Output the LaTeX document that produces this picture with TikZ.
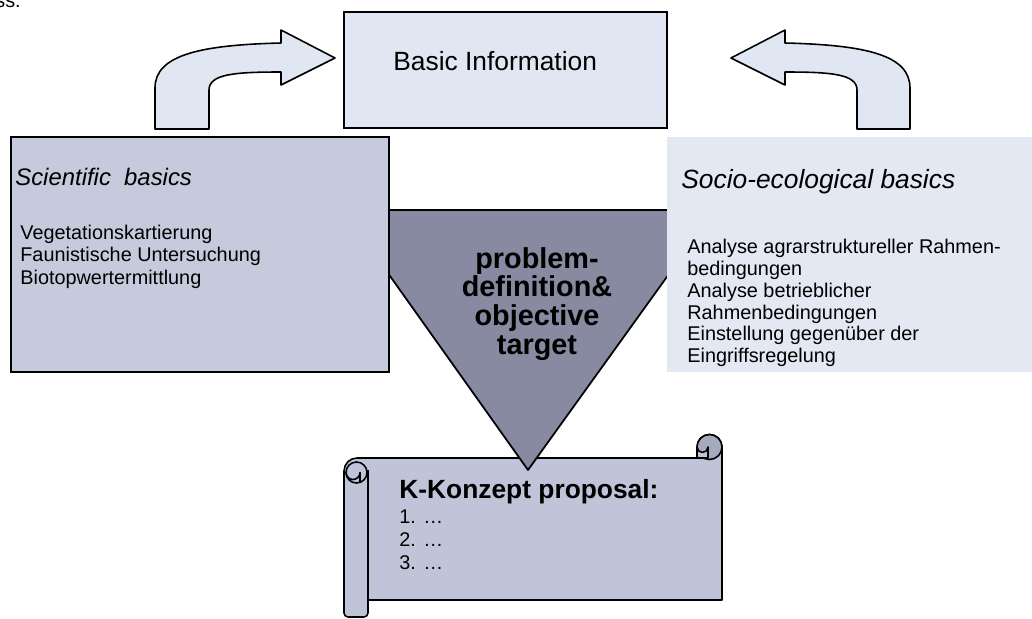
\documentclass[tikz,border=0pt]{standalone}
\usepackage{fontspec}
\setmainfont{Liberation Sans}
\definecolor{infofill}{HTML}{E0E6F2}
\definecolor{scifill}{HTML}{C5CADD}
\definecolor{sociofill}{HTML}{E3E8F3}
\definecolor{trifill}{HTML}{878AA0}
\definecolor{scrollfill}{HTML}{BFC4D8}
\definecolor{curlfill}{HTML}{A6AABD}
\tikzset{
    box/.style={
        draw=black,
        line width=1.1pt,
        inner sep=0pt
    },
    blockarrow/.style={
        draw=black,
        line width=0.9pt,
        fill=infofill,
        line join=round
    },
    scrollline/.style={
        draw=black,
        line width=0.9pt,
        line join=round
    },
    txt/.style={
        inner sep=0pt,
        align=left
    }
}

\begin{document}
\begin{tikzpicture}[
    x=0.02cm,
    y=0.02cm
]

    \useasboundingbox (0,0) rectangle (1032,-619);

    % Texto cortado arriba
    \node[txt, anchor=base west, font=\fontsize{11.3pt}{13pt}\selectfont]
        (fragment) at (-5,-7) {ss.};

    % Rollo
    \path[scrollline, fill=scrollfill]
        (368,-600) -- (722,-600) -- (722,-447)
        arc[start angle=0, end angle=180, radius=12.5]
        -- (697,-458) -- (357,-458)
        arc[start angle=90, end angle=180, radius=13]
        -- (344,-613)
        arc[start angle=180, end angle=270, radius=4]
        -- (364,-617)
        arc[start angle=270, end angle=360, radius=4]
        -- cycle;
    \draw[scrollline] (368,-470) -- (368,-613);
    \filldraw[scrollline, fill=scrollfill]
        (356.5,-472.5) circle[radius=10.5];
    \draw[scrollline] (346,-472.5)
        arc[start angle=180, end angle=360, radius=7] -- (360,-482);
    \filldraw[scrollline, fill=curlfill]
        (709.5,-447) circle[radius=12.5];
    \filldraw[scrollline, fill=scrollfill]
        (697,-447) arc[start angle=180, end angle=360, radius=5.5]
        -- (708,-458) -- (697,-458) -- cycle;

    \node[txt, anchor=base west, font=\bfseries\fontsize{15pt}{18pt}\selectfont]
        (proposal) at (399,-498) {K-Konzept proposal:};
    \node[txt, anchor=north west, font=\fontsize{11.3pt}{13pt}\selectfont]
        (steps) at (399,-509.7) {1. …\\2. …\\3. …};

    % Triangulo
    \filldraw[draw=black, line width=1pt, fill=trifill, line join=round]
        (343,-210) -- (715,-210) -- (528,-470) -- cycle;
    \node[align=center, inner sep=0pt,
          font=\bfseries\fontsize{16.4pt}{16.4pt}\selectfont]
        (problem) at (537,-304) {problem-\\definition\&\\objective\\target};

    % Cajas
    \node[box, fill=scifill, minimum width=7.56cm, minimum height=4.7cm]
        (sci) at (200,-254.5) {};
    \node[fill=sociofill, inner sep=0pt, minimum width=7.38cm, minimum height=4.7cm]
        (socio) at (851.5,-254.5) {};
    \node[box, fill=infofill, minimum width=6.46cm, minimum height=2.32cm]
        (info) at (505.5,-70) {};

    \node[txt, anchor=base west, font=\fontsize{15pt}{18pt}\selectfont]
        (infotitle) at (393,-70) {Basic Information};
    \node[txt, anchor=base west, font=\itshape\fontsize{13.6pt}{16pt}\selectfont]
        (scititle) at (15,-185) {Scientific\ \ basics};
    \node[txt, anchor=north west, font=\fontsize{11.3pt}{13pt}\selectfont]
        (scilist) at (20,-224.4)
        {Vegetationskartierung\\Faunistische Untersuchung\\Biotopwertermittlung};
    \node[txt, anchor=base west, font=\itshape\fontsize{15pt}{18pt}\selectfont]
        (sociotitle) at (681,-188) {Socio-ecological basics};
    \node[txt, anchor=north west, font=\fontsize{11.3pt}{12.5pt}\selectfont]
        (sociolist) at (687,-238.4)
        {Analyse agrarstruktureller Rahmen-\\bedingungen\\Analyse betrieblicher\\Rahmenbedingungen\\Einstellung gegenüber der\\Eingriffsregelung};

    % Flechas curvas
    \draw[blockarrow]
        (155,-129) -- (155,-88)
        .. controls (155,-55) and (200,-45) .. (281,-43)
        -- (281,-30) -- (335,-58) -- (281,-85) -- (281,-72)
        .. controls (235,-72) and (209,-74) .. (209,-90)
        -- (209,-129) -- cycle;
    \draw[blockarrow]
        (910,-129) -- (910,-88)
        .. controls (910,-55) and (866,-45) .. (785,-43)
        -- (785,-30) -- (731,-58) -- (785,-85) -- (785,-72)
        .. controls (831,-72) and (857,-74) .. (857,-90)
        -- (857,-129) -- cycle;

\end{tikzpicture}
\end{document}
